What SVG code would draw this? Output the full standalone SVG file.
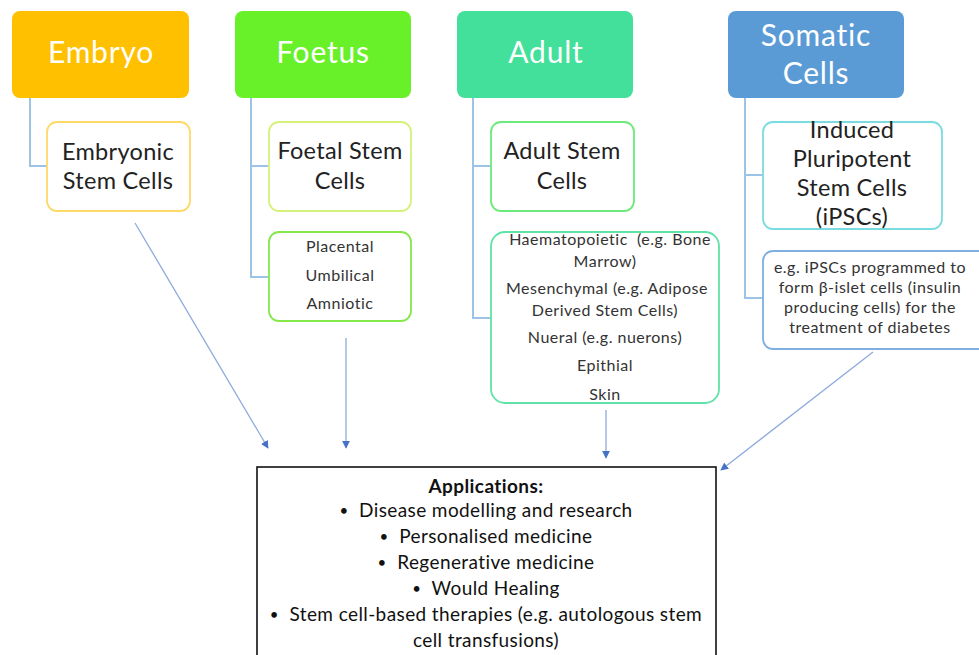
<svg xmlns="http://www.w3.org/2000/svg" width="979" height="655" viewBox="0 0 979 655">
<defs>
<marker id="ah" viewBox="0 0 10 10" refX="9" refY="5" markerWidth="6" markerHeight="6" orient="auto">
<path d="M0,0 L10,5 L0,10 z" fill="#4472C4"/>
</marker>
<style>
text{font-family:Lato,"Open Sans","Liberation Sans",sans-serif;text-anchor:middle}
.hd{fill:#fff;font-size:30px;letter-spacing:0.8px}
.c1{fill:#222;font-size:23.5px;letter-spacing:0.3px}
.c2{fill:#333;font-size:16px;letter-spacing:0.5px}
.c3{fill:#111;font-size:19px;letter-spacing:0.4px}
.bu{font-size:15px;baseline-shift:1.5px}
.cb{fill:#fff;stroke-width:1.8}
.tree{fill:none;stroke:#9DC3E6;stroke-width:2}
.arr{fill:none;stroke:#8FAADC;stroke-width:1.3;marker-end:url(#ah)}
</style>
</defs>
<rect width="979" height="655" fill="#fff"/>
<g id="connectors">
<path class="tree" d="M30,98 V166 H47"/>
<path class="tree" d="M251,98 V277 H269 M251,166 H269"/>
<path class="tree" d="M473,98 V318 H491 M473,166 H491"/>
<path class="tree" d="M745,98 V298 H763 M745,175 H763"/>
<line class="arr" x1="135" y1="223" x2="268" y2="448"/>
<line class="arr" x1="346" y1="338" x2="346" y2="448"/>
<line class="arr" x1="606" y1="410" x2="606" y2="458"/>
<line class="arr" x1="873" y1="352" x2="721" y2="470"/>
</g>
<g id="embryo"><rect x="12" y="11" width="177" height="87" rx="8" fill="#FFC000"/><text class="hd" x="101" y="63">Embryo</text></g>
<g id="foetus"><rect x="235" y="11" width="176" height="87" rx="8" fill="#68F029"/><text class="hd" x="323" y="63">Foetus</text></g>
<g id="adult"><rect x="457" y="11" width="176" height="87" rx="8" fill="#42E09A"/><text class="hd" x="546" y="63">Adult</text></g>
<g id="somatic"><rect x="728" y="11" width="176" height="87" rx="8" fill="#5B9BD5"/><text class="hd" x="816" y="46">Somatic</text><text class="hd" x="816" y="84">Cells</text></g>
<g id="embryonic"><rect class="cb" x="47" y="122" width="143" height="89" rx="10" stroke="#FFD966"/><text class="c1" x="118" y="160">Embryonic</text><text class="c1" x="118" y="189">Stem Cells</text></g>
<g id="foetal"><rect class="cb" x="269" y="122" width="142" height="89" rx="10" stroke="#D4F27A"/><text class="c1" x="340" y="159">Foetal Stem</text><text class="c1" x="340" y="189">Cells</text></g>
<g id="placental"><rect class="cb" x="269" y="232" width="142" height="89" rx="10" stroke="#84E84A"/><text class="c2" x="340" y="252">Placental</text><text class="c2" x="340" y="281">Umbilical</text><text class="c2" x="340" y="309">Amniotic</text></g>
<g id="adultstem"><rect class="cb" x="491" y="122" width="143" height="89" rx="10" stroke="#6CEA7A"/><text class="c1" x="562" y="159">Adult Stem</text><text class="c1" x="562" y="189">Cells</text></g>
<g id="adultlist"><rect class="cb" x="491" y="232" width="228" height="171" rx="14" stroke="#60E3A6"/>
<text class="c2" x="610" y="245" xml:space="preserve">Haematopoietic  (e.g. Bone</text><text class="c2" x="605" y="267">Marrow)</text>
<text class="c2" x="607" y="294">Mesenchymal (e.g. Adipose</text><text class="c2" x="605" y="316">Derived Stem Cells)</text>
<text class="c2" x="605" y="343">Nueral (e.g. nuerons)</text><text class="c2" x="605" y="371">Epithial</text><text class="c2" x="605" y="400">Skin</text></g>
<g id="ipsc"><rect class="cb" x="763" y="122" width="179" height="107" rx="10" stroke="#7ADCE0"/><text class="c1" x="852" y="138">Induced</text><text class="c1" x="852" y="167">Pluripotent</text><text class="c1" x="852" y="196">Stem Cells</text><text class="c1" x="852" y="225">(iPSCs)</text></g>
<g id="example"><rect class="cb" x="763" y="251" width="230" height="98" rx="10" stroke="#7FAEE0"/><text class="c2" x="870" y="273">e.g. iPSCs programmed to</text><text class="c2" x="870" y="293">form β-islet cells (insulin</text><text class="c2" x="870" y="313">producing cells) for the</text><text class="c2" x="870" y="333">treatment of diabetes</text></g>
<g id="applications"><rect x="257" y="467" width="459" height="200" fill="#fff" stroke="#111" stroke-width="1.6"/>
<text class="c3" x="486" y="493" font-weight="bold">Applications:</text>
<text class="c3" x="486" y="517" xml:space="preserve"><tspan class="bu">•</tspan>  Disease modelling and research</text>
<text class="c3" x="486" y="543" xml:space="preserve"><tspan class="bu">•</tspan>  Personalised medicine</text>
<text class="c3" x="486" y="569" xml:space="preserve"><tspan class="bu">•</tspan>  Regenerative medicine</text>
<text class="c3" x="486" y="595" xml:space="preserve"><tspan class="bu">•</tspan>  Would Healing</text>
<text class="c3" x="486" y="621" xml:space="preserve"><tspan class="bu">•</tspan>  Stem cell-based therapies (e.g. autologous stem</text>
<text class="c3" x="486" y="647">cell transfusions)</text></g>
</svg>
